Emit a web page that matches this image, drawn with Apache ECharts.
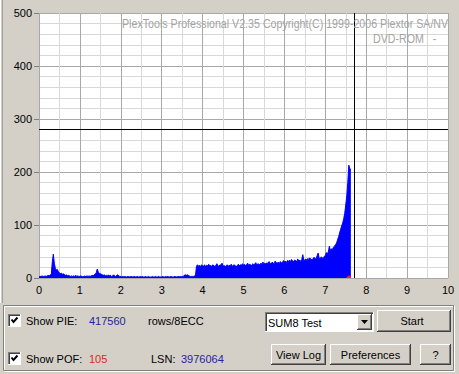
<!DOCTYPE html>
<html>
<head>
<meta charset="utf-8">
<script src="https://cdn.jsdelivr.net/npm/echarts@6/dist/echarts.min.js"></script>
<style>
html,body{margin:0;padding:0;background:#d4d0c8;}
#chart{width:459px;height:374px;}
</style>
</head>
<body>
<div id="chart"></div>
<script>
// ---- data ----
const xStart = 0;
const xStep = 0.025;
// PIE values, one per 0.025 position, groups of 0.5
const pieValues = [
  // 0.0 - 0.475
  2,3,3,4,3,3,4,3,4,5,4,6,6,30,45,28,18,15,16,12,
  // 0.5 - 0.975
  10,8,9,7,8,6,5,6,4,5,4,3,4,3,4,3,5,3,4,3,
  // 1.0 - 1.475
  3,4,3,2,4,3,3,4,3,4,3,4,5,4,6,8,10,17,11,9,
  // 1.5 - 1.975
  8,7,6,5,6,4,5,4,6,4,5,3,4,6,4,3,5,6,4,3,
  // 2.0 - 2.475
  3,2,3,2,3,2,2,3,2,2,3,2,2,3,2,2,3,2,2,3,
  // 2.5 - 2.975
  2,3,2,2,3,2,2,3,2,2,2,3,2,2,3,2,2,3,2,2,
  // 3.0 - 3.475
  2,3,2,2,3,2,3,2,2,3,2,2,2,3,2,2,3,2,3,2,
  // 3.5 - 3.975
  3,3,5,6,5,6,5,4,3,3,3,3,4,4,22,25,22,24,21,25,
  // 4.0 - 4.475
  23,22,25,21,24,23,26,22,24,21,25,23,22,24,27,23,22,25,24,28,
  // 4.5 - 4.975
  22,24,21,23,25,22,24,23,26,22,24,25,23,21,24,26,23,25,24,27,
  // 5.0 - 5.475
  24,26,23,25,28,24,26,25,23,27,25,26,29,24,27,26,25,28,26,30,
  // 5.5 - 5.975
  27,28,26,29,27,31,28,26,30,28,27,32,29,28,30,27,31,29,28,33,
  // 6.0 - 6.475
  30,32,29,33,31,34,30,35,32,31,34,33,30,36,32,34,31,35,44,33,
  // 6.5 - 6.975
  34,36,33,37,35,38,34,36,35,39,37,36,42,47,38,36,40,38,37,41,
  // 7.0 - 7.475
  42,48,45,50,60,52,55,54,58,60,63,66,72,78,85,92,98,104,112,122,
  // 7.5 - 7.625
  138,155,180,213,206,205
];
const pofStart = 7.525;
const pofValues = [0,3,4,3,2];
const cursorY = 280;
const cursorX = 7.7;
const xTicks = [0,1,2,3,4,5,6,7,8,9,10];
const yTicks = [0,100,200,300,400,500];
const titleLine1 = 'PlexTools Professional V2.35 Copyright(C) 1999-2006 Plextor SA/NV';
const titleLine2 = 'DVD-ROM   -';
const pieCount = '417560';
const pofCount = '105';
const lsnValue = '3976064';

// ---- build ----
const pieData = pieValues.map((v, i) => [+(xStart + i * xStep).toFixed(3), v]);
const pofData = pofValues.map((v, i) => [+(pofStart + i * xStep).toFixed(3), v]);

const FONT = 'Liberation Sans, Arial, sans-serif';
const FACE = '#d4d0c8';

function txt(x, y, s, color, align, extra) {
  return Object.assign({
    type: 'text', x: x, y: y,
    style: { text: s, fill: color || '#000', font: '11px ' + FONT,
      textAlign: align || 'left', textVerticalAlign: 'middle' }
  }, extra || {});
}
function line(x1, y1, x2, y2, c) {
  return { type: 'line', shape: { x1: x1, y1: y1, x2: x2, y2: y2 }, style: { stroke: c, lineWidth: 1 } };
}
function raised(x, y, w, h) {
  const r = x + w, b = y + h;
  return [
    { type: 'rect', shape: { x: x, y: y, width: w, height: h }, style: { fill: FACE } },
    line(x + 0.5, y + 0.5, r - 0.5, y + 0.5, '#ffffff'),
    line(x + 0.5, y + 0.5, x + 0.5, b - 0.5, '#ffffff'),
    line(x, b - 0.5, r, b - 0.5, '#404040'),
    line(r - 0.5, y, r - 0.5, b, '#404040'),
    line(x + 1, b - 1.5, r - 1, b - 1.5, '#808080'),
    line(r - 1.5, y + 1, r - 1.5, b - 1, '#808080')
  ];
}
function sunken(x, y, w, h, fill) {
  const r = x + w, b = y + h;
  return [
    { type: 'rect', shape: { x: x, y: y, width: w, height: h }, style: { fill: fill } },
    line(x, y + 0.5, r, y + 0.5, '#808080'),
    line(x + 0.5, y, x + 0.5, b, '#808080'),
    line(x + 1, y + 1.5, r - 1, y + 1.5, '#404040'),
    line(x + 1.5, y + 1, x + 1.5, b - 1, '#404040'),
    line(x, b - 0.5, r, b - 0.5, '#ffffff'),
    line(r - 0.5, y, r - 0.5, b, '#ffffff')
  ];
}
function checkbox(x, y) {
  return sunken(x, y, 13, 13, '#ffffff').concat([
    { type: 'polyline', shape: { points: [[x + 3.5, y + 5.5], [x + 5.5, y + 8], [x + 9.5, y + 3.5]] },
      style: { stroke: '#000', lineWidth: 2, fill: null } }
  ]);
}

let g = [];
// window frame left edge
g.push(line(0.5, 0, 0.5, 303, '#ffffff'));
g.push(line(2.5, 0, 2.5, 303, '#a0a0a0'));
// title watermark
g.push({ type: 'text', x: 122, y: 24, scaleX: 0.82, z: 10,
  style: { text: titleLine1, fill: '#a4a4a4', font: '13px ' + FONT, textAlign: 'left', textVerticalAlign: 'middle' } });
g.push({ type: 'text', x: 373, y: 39, scaleX: 0.82, z: 10,
  style: { text: titleLine2, fill: '#a4a4a4', font: '13px ' + FONT, textAlign: 'left', textVerticalAlign: 'middle' } });
// group box (etched)
g.push({ type: 'rect', shape: { x: 4.5, y: 306.5, width: 450, height: 65 }, style: { fill: null, stroke: '#ffffff', lineWidth: 1 } });
g.push({ type: 'rect', shape: { x: 3.5, y: 305.5, width: 450, height: 65 }, style: { fill: null, stroke: '#808080', lineWidth: 1 } });
// checkboxes + labels
g = g.concat(checkbox(8, 314));
g.push(txt(26, 320.5, 'Show PIE:'));
g.push(txt(89, 320.5, pieCount, '#2424a4'));
g.push(txt(148, 320.5, 'rows/8ECC'));
g = g.concat(checkbox(8, 352));
g.push(txt(26, 358.5, 'Show POF:'));
g.push(txt(89, 358.5, pofCount, '#e02424'));
g.push(txt(151, 358.5, 'LSN:'));
g.push(txt(181, 358.5, lsnValue, '#2424a4'));
// combo box
g = g.concat(sunken(265, 312, 109, 20, '#ffffff'));
g.push(txt(268, 322.5, 'SUM8 Test'));
g = g.concat(raised(357, 314, 15, 16));
g.push({ type: 'polygon', shape: { points: [[361, 320], [368, 320], [364.5, 324]] }, style: { fill: '#000' } });
// buttons
g = g.concat(raised(377, 310, 74, 22));
g.push(txt(412, 320.5, 'Start', '#000', 'center'));
g = g.concat(raised(271, 344, 55, 21));
g.push(txt(298.5, 354.5, 'View Log', '#000', 'center'));
g = g.concat(raised(330, 344, 81, 21));
g.push(txt(370.5, 354.5, 'Preferences', '#000', 'center'));
g = g.concat(raised(420, 344, 31, 21));
g.push(txt(435.5, 354.5, '?', '#000', 'center'));

const chart = echarts.init(document.getElementById('chart'), null, { renderer: 'svg' });
chart.setOption({
  animation: false,
  backgroundColor: FACE,
  grid: { left: 39, top: 13, width: 409, height: 265, backgroundColor: '#ffffff', show: true, borderWidth: 0 },
  xAxis: {
    type: 'value', min: xTicks[0], max: xTicks[xTicks.length - 1], interval: 1,
    axisLine: { show: false }, axisTick: { show: false },
    axisLabel: { color: '#000', fontSize: 11, fontFamily: FONT, margin: 6 },
    splitLine: { show: true, lineStyle: { color: '#a8a8a8', width: 1 } },
    minorTick: { show: false, splitNumber: 2 },
    minorSplitLine: { show: true, lineStyle: { color: '#d8d8d8', width: 1 } }
  },
  yAxis: {
    type: 'value', min: yTicks[0], max: yTicks[yTicks.length - 1], interval: 100,
    axisLine: { show: false },
    axisTick: { show: true, length: 5, lineStyle: { color: '#808080' } },
    axisLabel: { color: '#000', fontSize: 11, fontFamily: FONT, margin: 7 },
    splitLine: { show: true, lineStyle: { color: '#a8a8a8', width: 1 } },
    minorTick: { show: false, splitNumber: 5 },
    minorSplitLine: { show: true, lineStyle: { color: '#d8d8d8', width: 1 } }
  },
  series: [
    {
      type: 'line', data: pieData, showSymbol: false, symbol: 'none', z: 3,
      lineStyle: { color: '#0000ff', width: 1 },
      areaStyle: { color: '#0000ff', opacity: 1 },
      markLine: {
        silent: true, symbol: ['none', 'none'], label: { show: false },
        lineStyle: { color: '#000000', width: 1, type: 'solid' },
        data: [{ yAxis: cursorY }, { xAxis: cursorX }]
      }
    },
    {
      type: 'line', data: pofData, showSymbol: false, symbol: 'none', z: 4,
      lineStyle: { color: '#ff2020', width: 1 },
      areaStyle: { color: '#ff2020', opacity: 1 }
    }
  ],
  graphic: g
});
</script>
</body>
</html>
